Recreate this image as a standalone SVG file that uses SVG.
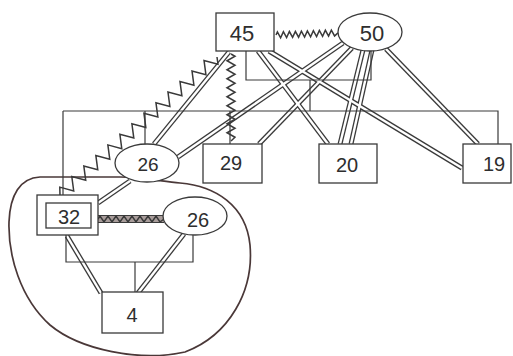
<svg xmlns="http://www.w3.org/2000/svg" width="513" height="356" viewBox="0 0 513 356">
<style>
.node{fill:#fff;stroke:#3a3a3a;stroke-width:1.3}
.lbl{font-family:"Liberation Sans","DejaVu Sans",sans-serif;font-size:22px;fill:#2e2e2e;text-anchor:middle;dominant-baseline:central}
.fam{fill:none;stroke:#3a3a3a;stroke-width:1.2}
.dblo{stroke:#3a3a3a;stroke-width:5;stroke-linecap:butt}
.dbli{stroke:#fff;stroke-width:2.4;stroke-linecap:butt}
.zig{fill:none;stroke:#3a3a3a;stroke-width:1.5;stroke-linejoin:miter}
.bound{fill:none;stroke:#4a3838;stroke-width:1.7}
</style>
<rect width="513" height="356" fill="#fff"/>
<g id="connectors">
  <path class="bound" d="M180,183 C215,186 246,205 250,245 C254,290 230,335 185,352 C140,362 80,350 50,325 C20,298 8,255 9,222 C10,195 20,178 40,177 L120,177 C140,177 160,181 180,183 Z"/>
  <g id="double-lines">
    <g class="dblo">
      <line x1="229" y1="52" x2="154" y2="144"/>
      <line x1="258" y1="51" x2="328" y2="144"/>
      <line x1="269" y1="51" x2="462" y2="168"/>
      <line x1="343" y1="43" x2="178" y2="157"/>
      <line x1="352" y1="48" x2="259" y2="144"/>
      <line x1="363" y1="50" x2="340" y2="144"/>
      <line x1="372" y1="50" x2="351" y2="144"/>
      <line x1="386" y1="49" x2="478" y2="144"/>
      <line x1="130" y1="181" x2="98" y2="203"/>
      <line x1="67" y1="236" x2="101" y2="293"/>
      <line x1="184" y1="234" x2="138" y2="293"/>
    </g>
    <g class="dbli">
      <line x1="229" y1="52" x2="154" y2="144"/>
      <line x1="258" y1="51" x2="328" y2="144"/>
      <line x1="269" y1="51" x2="462" y2="168"/>
      <line x1="343" y1="43" x2="178" y2="157"/>
      <line x1="352" y1="48" x2="259" y2="144"/>
      <line x1="363" y1="50" x2="340" y2="144"/>
      <line x1="372" y1="50" x2="351" y2="144"/>
      <line x1="386" y1="49" x2="478" y2="144"/>
      <line x1="130" y1="181" x2="98" y2="203"/>
      <line x1="67" y1="236" x2="101" y2="293"/>
      <line x1="184" y1="234" x2="138" y2="293"/>
    </g>
  </g>
  <g id="family-lines" class="fam">
    <path d="M246,51 V80 H371 V50"/>
    <path d="M310,80 V111"/>
    <path d="M63,111 H498 V144"/>
    <path d="M63,111 V195"/>
    <path d="M145,111 V145"/>
    <path d="M230,111 V144"/>
    <path d="M66,235 V262 H193 V235"/>
    <path d="M135,262 V292"/>
  </g>
  <g id="zigzags">
    <polyline class="zig" transform="translate(276,35) rotate(-2)" points="0,0 1.5,-3 4.5,3 7.5,-3 10.5,3 13.5,-3 16.5,3 19.5,-3 22.5,3 25.5,-3 28.5,3 31.5,-3 34.5,3 37.5,-3 40.5,3 43.5,-3 46.5,3 49.5,-3 52.5,3 55.5,-3 58.5,3 62,0"/>
    <polyline class="zig" transform="translate(231,54) rotate(90)" points="0,0 2.25,-4 6.75,4 11.25,-4 15.75,4 20.25,-4 24.75,4 29.25,-4 33.75,4 38.25,-4 42.75,4 47.25,-4 51.75,4 56.25,-4 60.75,4 65.25,-4 69.75,4 74.25,-4 78.75,4 83.25,-4 87,0"/>
    <polyline class="zig" transform="translate(217,57) rotate(138.7)" points="0,0 4,-6 12,6 20,-6 28,6 36,-6 44,6 52,-6 60,6 68,-6 76,6 84,-6 92,6 100,-6 108,6 116,-6 124,6 132,-6 140,6 148,-6 156,6 164,-6 172,6 180,-6 188,6 196,-6 204,6 209,0"/>
    <g id="conflict">
      <rect x="98" y="215.5" width="66" height="7" fill="#a89c9a"/>
      <line x1="98" y1="215.5" x2="164" y2="215.5" stroke="#3a3a3a" stroke-width="1.2"/>
      <line x1="98" y1="222.5" x2="164" y2="222.5" stroke="#3a3a3a" stroke-width="1.2"/>
      <polyline class="zig" points="98,219 100,216 104,222 108,216 112,222 116,216 120,222 124,216 128,222 132,216 136,222 140,216 144,222 148,216 152,222 156,216 160,222 164,219"/>
    </g>
  </g>
</g>
<g id="n45"><rect class="node" x="216" y="13" width="58" height="38"/><text class="lbl" x="242" y="33">45</text></g>
<g id="n50"><ellipse class="node" cx="370" cy="32" rx="32" ry="19"/><text class="lbl" x="372" y="33">50</text></g>
<g id="n26a"><ellipse class="node" cx="147" cy="163" rx="32" ry="19"/><text class="lbl" x="148" y="164" style="font-size:19px">26</text></g>
<g id="n29"><rect class="node" x="203" y="144" width="59" height="39"/><text class="lbl" x="231" y="163" style="font-size:20px">29</text></g>
<g id="n20"><rect class="node" x="319" y="144" width="58" height="39"/><text class="lbl" x="347" y="165" style="font-size:20px">20</text></g>
<g id="n19"><rect class="node" x="463" y="144" width="48" height="39"/><text class="lbl" x="494" y="164" style="font-size:20px">19</text></g>
<g id="n32"><rect class="node" x="37" y="195" width="61" height="40"/><rect class="node" x="46" y="203" width="45" height="25"/><text class="lbl" x="69" y="217" style="font-size:20px">32</text></g>
<g id="n26b"><ellipse class="node" cx="195" cy="216" rx="32" ry="19"/><text class="lbl" x="198" y="220" style="font-size:20px">26</text></g>
<g id="n4"><rect class="node" x="102" y="292" width="61" height="41"/><text class="lbl" x="132" y="315" style="font-size:20px">4</text></g>
</svg>
